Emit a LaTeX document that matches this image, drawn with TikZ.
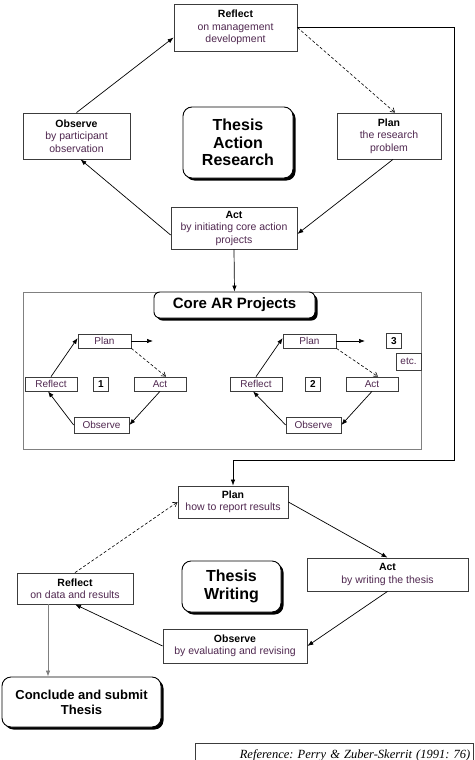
\documentclass[tikz,border=0pt]{standalone}
\usepackage{fontspec}
\setmainfont{Liberation Sans}
\newfontfamily\refserif{Liberation Serif}
\usepackage{tikz}
\usetikzlibrary{arrows.meta}
\usetikzlibrary{shadows}
\usepackage{xcolor}
\definecolor{subtxt}{RGB}{80,40,80}
\definecolor{boxline}{RGB}{60,60,60}
\newcommand{\subl}[1]{\textcolor{subtxt}{#1}}
\frenchspacing

\tikzset{
  stagebox/.style={draw=boxline, line width=0.8pt, fill=white, align=center, inner sep=0pt, font=\fontsize{10.5}{12.5}\selectfont},
  titlebox/.style={draw=black, line width=0.9pt, fill=white, rounded corners=9pt, align=center, inner sep=0pt, drop shadow={shadow xshift=2.5pt, shadow yshift=-2.5pt, fill=black, opacity=1}},
  minibox/.style={draw=boxline, line width=0.7pt, fill=white, inner sep=0pt, minimum height=14pt, text=subtxt, font=\fontsize{10}{12}\selectfont},
  flow/.style={line width=0.7pt, -{Latex[length=6pt,width=4.5pt]}},
  loopback/.style={line width=0.6pt, dash pattern=on 3pt off 2pt, -{Straight Barb[length=4pt,width=5pt]}}
}

\begin{document}
\begin{tikzpicture}[x=1pt,y=-1pt]
    \useasboundingbox (0,0) rectangle (474,760);
    % thesis action research
    \node[stagebox, minimum width=123pt, minimum height=47pt] (refl) at (235.5,27.5) {\textbf{Reflect}\\\subl{on management}\\\subl{development}};
    \node[stagebox, minimum width=107pt, minimum height=46pt] (obs) at (76.5,136) {\textbf{Observe}\\\subl{by participant}\\\subl{observation}};
    \node[stagebox, minimum width=104pt, minimum height=46pt] (plan) at (389,136) {\textbf{Plan}\\\subl{the research}\\\subl{problem}};
    \node[stagebox, minimum width=126pt, minimum height=42pt] (act) at (234,228) {\textbf{Act}\\\subl{by initiating core action}\\\subl{projects}};
    \node[titlebox, minimum width=110pt, minimum height=71pt, font=\bfseries\fontsize{16}{17.5}\selectfont] (tar) at (238,142.5) {Thesis\\Action\\Research};
    \draw[flow] (obs.north) -- ([yshift=-10pt]refl.west);
    \draw[loopback] (refl.east) -- ([xshift=6pt]plan.north);
    \draw[flow] ([xshift=4pt]plan.south) -- ([yshift=-6pt]act.east);
    \draw[flow] ([yshift=-7pt]act.west) -- ([xshift=4pt]obs.south);

    % core AR projects
    \node[draw=gray, line width=0.6pt, minimum width=398pt, minimum height=157pt, inner sep=0pt] (coreframe) at (222,370.5) {};
    \node[titlebox, minimum width=161pt, minimum height=26pt, rounded corners=6pt, font=\bfseries\fontsize{15}{17}\selectfont] (corettl) at (234.5,305) {Core AR Projects};
    \draw[flow] (act.south) -- (corettl.north);
    \foreach \n/\dl/\dr in {1/0/0, 2/205/212} {
        \node[minibox, minimum width=53pt] (cplan\n) at (104.5+\dl,341) {Plan};
        \node[minibox, minimum width=52pt] (crefl\n) at (51+\dl,384) {Reflect};
        \node[minibox, minimum width=15pt, text=black, font=\bfseries\fontsize{10}{12}\selectfont] (cnum\n) at (101+\dr,384) {\n};
        \node[minibox, minimum width=52pt] (cact\n) at (160+\dr,384) {Act};
        \node[minibox, minimum width=55pt, minimum height=16pt] (cobs\n) at (101.5+\dr,425) {Observe};
        \coordinate (cnext\n) at (153+\dr,341);
        \draw[flow] (cplan\n.east) -- (cnext\n);
        \draw[flow] (crefl\n.north) -- ([yshift=3pt]cplan\n.west);
        \draw[loopback] (cplan\n.south east) -- ([xshift=6pt]cact\n.north);
        \draw[flow] (cact\n.south) -- (cobs\n.east);
        \draw[flow] (cobs\n.west) -- ([xshift=-3pt]crefl\n.south);
    }
    \node[minibox, minimum width=15pt, minimum height=15pt, text=black, font=\bfseries\fontsize{10}{12}\selectfont] (cnum3) at (394,341) {3};
    \node[minibox, minimum width=25pt, minimum height=17pt] (etc) at (408.5,361.5) {etc.};

    % thesis writing
    \node[stagebox, minimum width=110pt, minimum height=32pt] (wplan) at (233,502) {\textbf{Plan}\\\subl{how to report results}};
    \node[stagebox, minimum width=161pt, minimum height=33pt] (wact) at (387.5,574.5) {\textbf{Act}\\\subl{by writing the thesis}};
    \node[stagebox, minimum width=144pt, minimum height=34pt] (wobs) at (235,646) {\textbf{Observe}\\\subl{by evaluating and revising}};
    \node[stagebox, minimum width=116pt, minimum height=31pt] (wrefl) at (75,588.5) {\textbf{Reflect}\\\subl{on data and results}};
    \node[titlebox, minimum width=99pt, minimum height=51pt, font=\bfseries\fontsize{16}{17.5}\selectfont] (wttl) at (231.5,586.5) {Thesis\\Writing};
    \node[titlebox, minimum width=159pt, minimum height=50pt, font=\bfseries\fontsize{13}{15}\selectfont] (concl) at (81.5,702) {Conclude and submit\\Thesis};
    \draw[flow] (refl.east) -| (454,460) -| (wplan.north);
    \draw[flow] (wplan.east) -- (wact.north);
    \draw[flow] (wact.south) -- (wobs.east);
    \draw[flow] (wobs.west) -- (wrefl.south);
    \draw[loopback] (wrefl.north) -- (wplan.west);
    \draw[flow, draw=gray] ([xshift=-27pt]wrefl.south) -- ([xshift=-27pt]wrefl.south |- concl.north);

    % reference
    \node[draw=boxline, line width=0.6pt, minimum width=278pt, minimum height=24pt, inner sep=0pt, anchor=north west, text width=272pt, align=right, font=\refserif\itshape\fontsize{12.5}{14}\selectfont] (refnote) at (195,743) {Reference: Perry \& Zuber-Skerrit (1991: 76)};
\end{tikzpicture}
\end{document}
